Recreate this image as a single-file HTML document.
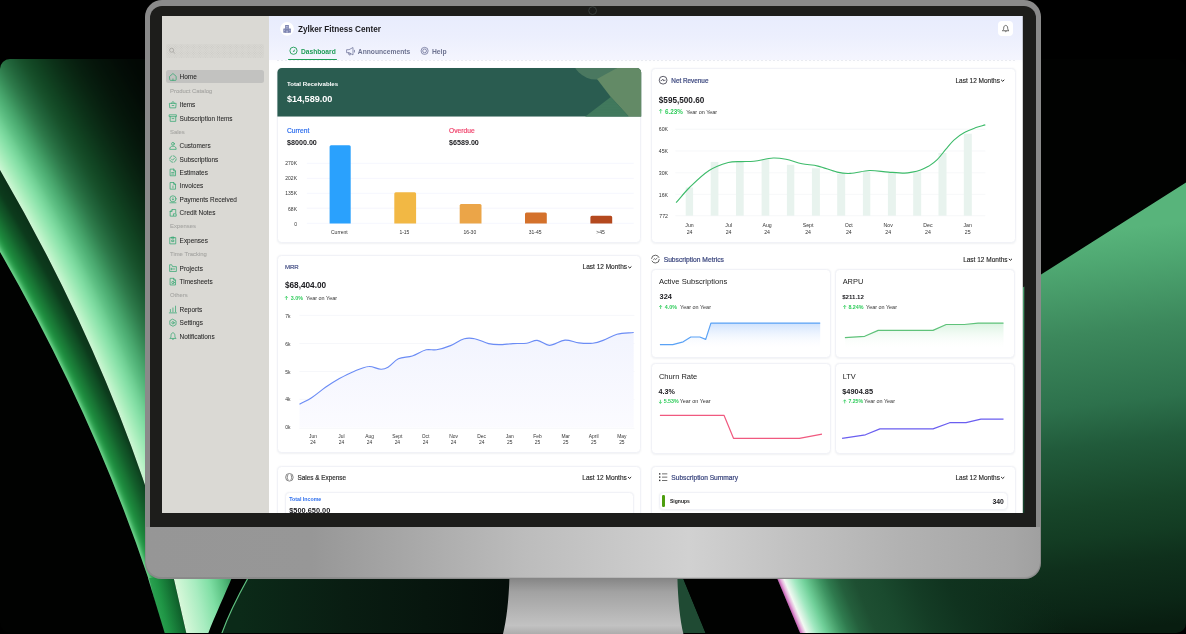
<!DOCTYPE html>
<html><head><meta charset="utf-8"><title>Dashboard</title><style>html,body{margin:0;padding:0;background:#000;}
body{width:1186px;height:634px;position:relative;overflow:hidden;font-family:"Liberation Sans", sans-serif;}
.t{position:absolute;white-space:nowrap;line-height:1;font-family:"Liberation Sans", sans-serif;}
#scr{position:absolute;left:0;top:0;width:1186px;height:634px;clip-path:inset(16px 163.2px 121px 161.5px);}
#scr2{position:absolute;left:0;top:0;width:1186px;height:634px;}
</style></head><body>
<svg width="1186" height="634" viewBox="0 0 1186 634" style="position:absolute;left:0;top:0">
<defs>
<clipPath id="bgc"><rect x="0" y="59" width="1186" height="574" rx="10"/></clipPath>
<path id="eA" d="M-311.8 -250Q207.9 325.0 219.6 900" fill="none"/>
<path id="eB" d="M-381.0 -250Q161.7 325.0 217.7 900" fill="none"/>
<clipPath id="cA"><path d="M-311.8 -250Q207.9 325.0 219.6 900 L400 900 L400 -250 Z"/></clipPath>
<clipPath id="cB"><path d="M-381.0 -250Q161.7 325.0 217.7 900 L400 900 L400 -250 Z"/></clipPath>
<clipPath id="cL"><rect x="0" y="59" width="160" height="519"/></clipPath>
<linearGradient id="gA2" gradientUnits="userSpaceOnUse" x1="173.7" y1="578" x2="228.3" y2="565.5"><stop offset="0" stop-color="#d8f8da"/><stop offset=".35" stop-color="#a8ecc0"/><stop offset=".6" stop-color="#80dfa5"/><stop offset=".82" stop-color="#58c080"/><stop offset="1" stop-color="#3a9a60"/></linearGradient>
<linearGradient id="gB2" gradientUnits="userSpaceOnUse" x1="148" y1="578" x2="173" y2="572"><stop offset="0" stop-color="#80d8a0"/><stop offset=".06" stop-color="#2aa050"/><stop offset=".3" stop-color="#1f9545"/><stop offset="1" stop-color="#0d5a28"/></linearGradient>
<linearGradient id="gC" gradientUnits="userSpaceOnUse" x1="240" y1="0" x2="505" y2="0"><stop offset="0" stop-color="#0b2a18"/><stop offset=".4" stop-color="#091d12"/><stop offset="1" stop-color="#050f0a"/></linearGradient>
<linearGradient id="gD" gradientUnits="userSpaceOnUse" x1="1110" y1="230" x2="1158" y2="626"><stop offset="0" stop-color="#58b47b"/><stop offset=".075" stop-color="#4fa872"/><stop offset=".25" stop-color="#3c885c"/><stop offset=".43" stop-color="#2d714c"/><stop offset=".53" stop-color="#215b3b"/><stop offset=".68" stop-color="#174529"/><stop offset=".76" stop-color="#133c23"/><stop offset=".83" stop-color="#0f301c"/><stop offset=".935" stop-color="#0b2616"/><stop offset="1" stop-color="#081d10"/></linearGradient>
<linearGradient id="gE" gradientUnits="userSpaceOnUse" x1="777.5" y1="578" x2="1063.3" y2="458.0"><stop offset="0" stop-color="#c868b8"/><stop offset=".008" stop-color="#e6b0dc"/><stop offset=".018" stop-color="#f2f8f2"/><stop offset=".048" stop-color="#a0e8c0"/><stop offset=".077" stop-color="#6fcf98"/><stop offset=".107" stop-color="#4fa873"/><stop offset=".122" stop-color="#3f9563"/><stop offset=".146" stop-color="#2f7a4e"/><stop offset=".181" stop-color="#245f3c"/><stop offset=".226" stop-color="#1e4f32"/><stop offset=".297" stop-color="#1a4a2e"/><stop offset=".4" stop-color="#143c25"/><stop offset=".5" stop-color="#10331f"/><stop offset=".8" stop-color="#0d2b1a" stop-opacity="0"/></linearGradient>
<filter id="bl" color-interpolation-filters="sRGB" x="-20%" y="-20%" width="140%" height="140%"><feGaussianBlur stdDeviation="1.5"/></filter>
</defs>
<g clip-path="url(#bgc)">
<rect x="0" y="59" width="1186" height="575" fill="#010201"/>
<g clip-path="url(#cL)">
<g clip-path="url(#cB)" fill="none">
<rect x="0" y="59" width="200" height="580" fill="#082612"/>
<g filter="url(#bl)"><use href="#eB" stroke="#082612" stroke-width="160.0"/>
<use href="#eB" stroke="#082713" stroke-width="154.0"/>
<use href="#eB" stroke="#082813" stroke-width="148.0"/>
<use href="#eB" stroke="#092914" stroke-width="142.0"/>
<use href="#eB" stroke="#092914" stroke-width="136.0"/>
<use href="#eB" stroke="#092a15" stroke-width="130.0"/>
<use href="#eB" stroke="#092b15" stroke-width="124.0"/>
<use href="#eB" stroke="#092c16" stroke-width="118.0"/>
<use href="#eB" stroke="#092d16" stroke-width="112.0"/>
<use href="#eB" stroke="#0a2e17" stroke-width="106.0"/>
<use href="#eB" stroke="#0a2f17" stroke-width="100.0"/>
<use href="#eB" stroke="#0a2f18" stroke-width="94.0"/>
<use href="#eB" stroke="#0a3118" stroke-width="88.0"/>
<use href="#eB" stroke="#0b3319" stroke-width="82.0"/>
<use href="#eB" stroke="#0b351a" stroke-width="76.0"/>
<use href="#eB" stroke="#0c381b" stroke-width="70.0"/>
<use href="#eB" stroke="#0c3a1c" stroke-width="64.0"/>
<use href="#eB" stroke="#0e4420" stroke-width="58.0"/>
<use href="#eB" stroke="#0f4822" stroke-width="55.0"/>
<use href="#eB" stroke="#104d24" stroke-width="52.0"/>
<use href="#eB" stroke="#115226" stroke-width="49.0"/>
<use href="#eB" stroke="#125628" stroke-width="46.0"/>
<use href="#eB" stroke="#135b2a" stroke-width="43.0"/>
<use href="#eB" stroke="#14602c" stroke-width="40.0"/>
<use href="#eB" stroke="#15662e" stroke-width="37.0"/>
<use href="#eB" stroke="#176c31" stroke-width="34.0"/>
<use href="#eB" stroke="#187234" stroke-width="31.0"/>
<use href="#eB" stroke="#1a7836" stroke-width="28.0"/>
<use href="#eB" stroke="#1b7d38" stroke-width="25.0"/>
<use href="#eB" stroke="#1c833b" stroke-width="22.0"/>
<use href="#eB" stroke="#1e893e" stroke-width="19.0"/>
<use href="#eB" stroke="#1f8f40" stroke-width="16.0"/>
<use href="#eB" stroke="#29994a" stroke-width="13.0"/>
<use href="#eB" stroke="#32a454" stroke-width="10.0"/>
<use href="#eB" stroke="#3cae5e" stroke-width="7.0"/>
<use href="#eB" stroke="#69cf88" stroke-width="4.0"/>
<use href="#eB" stroke="#87dea2" stroke-width="1.0"/></g>
</g>
<g clip-path="url(#cA)" fill="none">
<rect x="0" y="59" width="200" height="580" fill="#010402"/>
<g filter="url(#bl)"><use href="#eA" stroke="#010402" stroke-width="440.0"/>
<use href="#eA" stroke="#010402" stroke-width="434.0"/>
<use href="#eA" stroke="#010502" stroke-width="428.0"/>
<use href="#eA" stroke="#010502" stroke-width="422.0"/>
<use href="#eA" stroke="#010502" stroke-width="416.0"/>
<use href="#eA" stroke="#010503" stroke-width="410.0"/>
<use href="#eA" stroke="#010503" stroke-width="404.0"/>
<use href="#eA" stroke="#010603" stroke-width="398.0"/>
<use href="#eA" stroke="#010603" stroke-width="392.0"/>
<use href="#eA" stroke="#020603" stroke-width="386.0"/>
<use href="#eA" stroke="#020603" stroke-width="380.0"/>
<use href="#eA" stroke="#020703" stroke-width="374.0"/>
<use href="#eA" stroke="#020703" stroke-width="368.0"/>
<use href="#eA" stroke="#020704" stroke-width="362.0"/>
<use href="#eA" stroke="#020804" stroke-width="356.0"/>
<use href="#eA" stroke="#020804" stroke-width="350.0"/>
<use href="#eA" stroke="#020904" stroke-width="344.0"/>
<use href="#eA" stroke="#020905" stroke-width="338.0"/>
<use href="#eA" stroke="#030a05" stroke-width="332.0"/>
<use href="#eA" stroke="#030b06" stroke-width="326.0"/>
<use href="#eA" stroke="#030c06" stroke-width="320.0"/>
<use href="#eA" stroke="#030d07" stroke-width="314.0"/>
<use href="#eA" stroke="#040e07" stroke-width="308.0"/>
<use href="#eA" stroke="#041008" stroke-width="302.0"/>
<use href="#eA" stroke="#041108" stroke-width="296.0"/>
<use href="#eA" stroke="#041209" stroke-width="290.0"/>
<use href="#eA" stroke="#05130a" stroke-width="284.0"/>
<use href="#eA" stroke="#05150a" stroke-width="278.0"/>
<use href="#eA" stroke="#06160b" stroke-width="272.0"/>
<use href="#eA" stroke="#06180c" stroke-width="266.0"/>
<use href="#eA" stroke="#061a0d" stroke-width="260.0"/>
<use href="#eA" stroke="#071c0e" stroke-width="254.0"/>
<use href="#eA" stroke="#071e0f" stroke-width="248.0"/>
<use href="#eA" stroke="#082010" stroke-width="242.0"/>
<use href="#eA" stroke="#092311" stroke-width="236.0"/>
<use href="#eA" stroke="#092512" stroke-width="230.0"/>
<use href="#eA" stroke="#0a2814" stroke-width="224.0"/>
<use href="#eA" stroke="#0b2b15" stroke-width="218.0"/>
<use href="#eA" stroke="#0b2e17" stroke-width="212.0"/>
<use href="#eA" stroke="#0c3118" stroke-width="206.0"/>
<use href="#eA" stroke="#0d341a" stroke-width="200.0"/>
<use href="#eA" stroke="#0e381c" stroke-width="194.0"/>
<use href="#eA" stroke="#0f3b1e" stroke-width="188.0"/>
<use href="#eA" stroke="#103f1f" stroke-width="182.0"/>
<use href="#eA" stroke="#114322" stroke-width="176.0"/>
<use href="#eA" stroke="#124624" stroke-width="170.0"/>
<use href="#eA" stroke="#144a26" stroke-width="164.0"/>
<use href="#eA" stroke="#164e29" stroke-width="158.0"/>
<use href="#eA" stroke="#18522c" stroke-width="152.0"/>
<use href="#eA" stroke="#1b5730" stroke-width="146.0"/>
<use href="#eA" stroke="#1d5d35" stroke-width="140.0"/>
<use href="#eA" stroke="#206239" stroke-width="134.0"/>
<use href="#eA" stroke="#24683d" stroke-width="128.0"/>
<use href="#eA" stroke="#276f42" stroke-width="122.0"/>
<use href="#eA" stroke="#2b7647" stroke-width="116.0"/>
<use href="#eA" stroke="#307d4d" stroke-width="110.0"/>
<use href="#eA" stroke="#348654" stroke-width="104.0"/>
<use href="#eA" stroke="#398f5a" stroke-width="98.0"/>
<use href="#eA" stroke="#3f9861" stroke-width="92.0"/>
<use href="#eA" stroke="#45a169" stroke-width="86.0"/>
<use href="#eA" stroke="#4baa70" stroke-width="80.0"/>
<use href="#eA" stroke="#51b277" stroke-width="74.0"/>
<use href="#eA" stroke="#59ba7f" stroke-width="68.0"/>
<use href="#eA" stroke="#61c286" stroke-width="62.0"/>
<use href="#eA" stroke="#69ca8e" stroke-width="56.0"/>
<use href="#eA" stroke="#6ecd92" stroke-width="53.0"/>
<use href="#eA" stroke="#72d196" stroke-width="50.0"/>
<use href="#eA" stroke="#77d59a" stroke-width="47.0"/>
<use href="#eA" stroke="#7bd89e" stroke-width="44.0"/>
<use href="#eA" stroke="#80dca2" stroke-width="41.0"/>
<use href="#eA" stroke="#85dfa6" stroke-width="38.0"/>
<use href="#eA" stroke="#8ae1a9" stroke-width="35.0"/>
<use href="#eA" stroke="#8fe4ad" stroke-width="32.0"/>
<use href="#eA" stroke="#95e6b0" stroke-width="29.0"/>
<use href="#eA" stroke="#9ae8b4" stroke-width="26.0"/>
<use href="#eA" stroke="#a0eab7" stroke-width="23.0"/>
<use href="#eA" stroke="#a6ecba" stroke-width="20.0"/>
<use href="#eA" stroke="#aceebe" stroke-width="17.0"/>
<use href="#eA" stroke="#b2f0c2" stroke-width="14.0"/>
<use href="#eA" stroke="#b8f2c6" stroke-width="11.0"/>
<use href="#eA" stroke="#bff3ca" stroke-width="8.0"/>
<use href="#eA" stroke="#c7f4cf" stroke-width="5.0"/>
<use href="#eA" stroke="#cff6d5" stroke-width="2.0"/></g>
</g>
</g>
<path d="M1030 281.6 L1186 182.4 L1186 640 L760 640 L760 570 L1030 570 Z" fill="url(#gD)"/>
<path d="M148 578 L173.7 578 L186.5 634 L165 634 Z" fill="url(#gB2)"/>
<path d="M173.7 578 L231.7 578 C226 592 214 618 208 634 L186.5 634 Z" fill="url(#gA2)"/>
<path d="M248 578 C238 596 228 616 221.6 634 L520 634 L520 578 Z" fill="url(#gC)"/>
<path d="M248 578 C238 596 228 616 221.6 634" fill="none" stroke="#5fc080" stroke-width="1.2"/>
<path d="M670 578 L683 578 L706 634 L670 634 Z" fill="#1f4a33"/>
<path d="M683 578 L777 578 L800.5 634 L706 634 Z" fill="#010201"/>
<path d="M777 578 L1186 578 L1186 634 L800.5 634 Z" fill="url(#gE)"/>
</g>
</svg>
<div style="position:absolute;left:145px;top:0;width:896px;height:578px;border-radius:17px 17px 16px 16px;height:578.5px;background:#8a8a8a;"></div>
<div style="position:absolute;left:145.8px;top:527px;width:894.4px;height:50.8px;border-radius:0 0 15.2px 15.2px;background:linear-gradient(90deg,#969696 0,#979797 18.6%,#a8a8a8 29.6%,#bcbcbc 42.2%,#d1d1d1 60.7%,#c2c2c2 71.7%,#b2b2b2 84.3%,#a6a6a6 96.9%,#a0a0a0 100%);box-shadow:inset 0 -1px 0 rgba(0,0,0,.08);"></div>
<div style="position:absolute;left:149.7px;top:5.6px;width:886.6px;height:521.4px;border-radius:12px 12px 0 0;background:#1d1d1b;"></div>
<svg width="1186" height="634" style="position:absolute;left:0;top:0"><circle cx="592.6" cy="10.6" r="3.9" fill="#1b1c1b" stroke="#373c3a" stroke-width="1"/>
<defs><linearGradient id="gstrip" gradientUnits="userSpaceOnUse" x1="0" y1="284" x2="0" y2="513"><stop offset="0" stop-color="#4aa06d"/><stop offset=".2" stop-color="#3e8c60"/><stop offset=".5" stop-color="#2f7550"/><stop offset=".68" stop-color="#215b3b"/><stop offset="1" stop-color="#15402a"/></linearGradient><linearGradient id="gst" x1="0" y1="0" x2="0" y2="1"><stop offset="0" stop-color="#858585"/><stop offset=".25" stop-color="#a2a2a2"/><stop offset=".85" stop-color="#c2c2c2"/><stop offset="1" stop-color="#adadad"/></linearGradient></defs>
<path d="M1022.8 287.500L1024.300 286.500V513H1022.800Z" fill="url(#gstrip)"/><path d="M509.4 578H677.4C678 600 680 620 683.4 634H503C506.5 620 508.8 600 509.4 578Z" fill="url(#gst)"/>
</svg>
<div id="scr"><div id="scr2">
<div style="position:absolute;left:161.50px;top:16.00px;width:107.30px;height:497.00px;background:#dad9d4;"></div>
<div style="position:absolute;left:268.80px;top:16.00px;width:754.00px;height:497.00px;background:linear-gradient(180deg,#e8ecfd 0,#eceffd 20px,#f4f5fe 43.5px,#fdfdff 44.5px,#fff 48px);"></div>
<div style="position:absolute;left:166.20px;top:43.80px;width:98.30px;height:14.10px;background-color:#d8d7d2;background-image:radial-gradient(#cbcac5 0.55px,transparent 0.7px),radial-gradient(#cbcac5 0.55px,transparent 0.7px);background-size:2.4px 2.4px;background-position:0 0,1.2px 1.2px;border-radius:2px;"></div>
<div style="position:absolute;left:166.00px;top:70.00px;width:98.00px;height:13.00px;background:#c2c2c0;border-radius:2.5px;"></div>
<div style="position:absolute;left:998.00px;top:21.10px;width:15.00px;height:15.40px;background:#fff;border-radius:4px;"></div>
<div style="position:absolute;left:288.00px;top:59.20px;width:48.60px;height:1.30px;background:#1f9d57;border-radius:1px;"></div>
<div style="position:absolute;left:277.00px;top:60.30px;width:739.00px;height:0.50px;background:repeating-linear-gradient(90deg,#e9ebf0 0 2px,transparent 2px 4px);"></div>
<div style="position:absolute;left:277.40px;top:68.00px;width:363.80px;height:175.30px;background:#fff;border:0.7px solid #f1f2f7;border-radius:4.5px;box-shadow:0 0.5px 2px rgba(20,30,60,.06);box-sizing:border-box;"></div>
<div style="position:absolute;left:651.40px;top:68.00px;width:364.30px;height:175.30px;background:#fff;border:0.7px solid #f1f2f7;border-radius:4.5px;box-shadow:0 0.5px 2px rgba(20,30,60,.06);box-sizing:border-box;"></div>
<div style="position:absolute;left:277.40px;top:254.70px;width:364.10px;height:198.70px;background:#fff;border:0.7px solid #f1f2f7;border-radius:4.5px;box-shadow:0 0.5px 2px rgba(20,30,60,.06);box-sizing:border-box;"></div>
<div style="position:absolute;left:651.20px;top:268.60px;width:180.20px;height:89.90px;background:#fff;border:0.7px solid #f1f2f7;border-radius:4.5px;box-shadow:0 0.5px 2px rgba(20,30,60,.06);box-sizing:border-box;"></div>
<div style="position:absolute;left:835.20px;top:268.60px;width:180.10px;height:89.90px;background:#fff;border:0.7px solid #f1f2f7;border-radius:4.5px;box-shadow:0 0.5px 2px rgba(20,30,60,.06);box-sizing:border-box;"></div>
<div style="position:absolute;left:651.20px;top:363.30px;width:180.20px;height:90.30px;background:#fff;border:0.7px solid #f1f2f7;border-radius:4.5px;box-shadow:0 0.5px 2px rgba(20,30,60,.06);box-sizing:border-box;"></div>
<div style="position:absolute;left:835.20px;top:363.30px;width:180.10px;height:90.30px;background:#fff;border:0.7px solid #f1f2f7;border-radius:4.5px;box-shadow:0 0.5px 2px rgba(20,30,60,.06);box-sizing:border-box;"></div>
<div style="position:absolute;left:277.40px;top:465.60px;width:364.10px;height:64.40px;background:#fff;border:0.7px solid #f1f2f7;border-radius:4.5px;box-shadow:0 0.5px 2px rgba(20,30,60,.06);box-sizing:border-box;"></div>
<div style="position:absolute;left:285.40px;top:491.80px;width:348.30px;height:38.20px;background:#fff;border:0.7px solid #f1f2f7;border-radius:4.5px;box-shadow:0 0.5px 2px rgba(20,30,60,.06);box-sizing:border-box;"></div>
<div style="position:absolute;left:651.40px;top:465.60px;width:364.30px;height:64.40px;background:#fff;border:0.7px solid #f1f2f7;border-radius:4.5px;box-shadow:0 0.5px 2px rgba(20,30,60,.06);box-sizing:border-box;"></div>
<div style="position:absolute;left:658.50px;top:491.80px;width:349.50px;height:18.40px;background:#fff;border:0.7px solid #f1f2f7;border-radius:4.5px;box-shadow:0 0.5px 2px rgba(20,30,60,.06);box-sizing:border-box;"></div>
<div style="position:absolute;left:662.30px;top:494.90px;width:3.20px;height:11.80px;background:#4d9e0f;border-radius:1.2px;"></div>
<svg width="1186" height="634" viewBox="0 0 1186 634" style="position:absolute;left:0;top:0">
<circle cx="171.6" cy="50.2" r="2" fill="none" stroke="#a3a29e" stroke-width=".75"/><path d="M173.1 51.700l1.700 1.600" stroke="#a3a29e" stroke-width=".8"/>
<g transform="translate(169.1 73.20) scale(1.07)" fill="none" stroke="#2fa56e" stroke-width=".68" stroke-linejoin="round" stroke-linecap="round"><path d="M.6 2.900L3.600.3l3 2.600v3.200a.6.6 0 0 1-.6.6H1.200a.6.6 0 0 1-.6-.6z"/><path d="M3.600 6.600V5.300"/></g>
<g transform="translate(169.1 100.90) scale(1.07)" fill="none" stroke="#2fa56e" stroke-width=".68" stroke-linejoin="round" stroke-linecap="round"><path d="M.6 2.3h6l-.4 4.2H1z"/><path d="M2.3 2.3C2.3.2 4.9.2 4.9 2.3"/><path d="M2.8 4.3h1.6"/></g>
<g transform="translate(169.1 114.30) scale(1.07)" fill="none" stroke="#2fa56e" stroke-width=".68" stroke-linejoin="round" stroke-linecap="round"><path d="M.4.5h6.4v1.7H.4z"/><path d="M1 2.2v4.4h5.2V2.2"/><path d="M2.8 4h1.6"/></g>
<g transform="translate(169.1 142.00) scale(1.07)" fill="none" stroke="#2fa56e" stroke-width=".68" stroke-linejoin="round" stroke-linecap="round"><circle cx="3.6" cy="1.7" r="1.3"/><path d="M.6 6.5c0-1.6 1-2.6 3-2.6s3 1 3 2.6z"/></g>
<g transform="translate(169.1 155.30) scale(1.07)" fill="none" stroke="#2fa56e" stroke-width=".68" stroke-linejoin="round" stroke-linecap="round"><circle cx="3.6" cy="3.5" r="3.1" stroke-dasharray="3.4 1.4"/><path d="M2.3 3.6l1 1 1.7-1.9"/></g>
<g transform="translate(169.1 168.70) scale(1.07)" fill="none" stroke="#2fa56e" stroke-width=".68" stroke-linejoin="round" stroke-linecap="round"><path d="M1.300.4h3l1.700 1.700v4.500H1.300z"/><path d="M4.300.4v1.700h1.700"/><path d="M2.400 3.600h2.200M2.400 5h2.200"/></g>
<g transform="translate(169.1 182.10) scale(1.07)" fill="none" stroke="#2fa56e" stroke-width=".68" stroke-linejoin="round" stroke-linecap="round"><path d="M1.300.4h3l1.700 1.700v4.500H1.300z"/><path d="M4.300.4v1.700h1.700"/><path d="M3.600 3.600v1.800"/></g>
<g transform="translate(169.1 195.50) scale(1.07)" fill="none" stroke="#2fa56e" stroke-width=".68" stroke-linejoin="round" stroke-linecap="round"><circle cx="3.600" cy="3.100" r="2.850"/><path d="M3.600 1.900v2.200M2.800 3.400l.8.800.8-.8" stroke-width=".55"/><path d="M.8 6.800h5.600"/></g>
<g transform="translate(169.1 209.10) scale(1.07)" fill="none" stroke="#2fa56e" stroke-width=".68" stroke-linejoin="round" stroke-linecap="round"><path d="M3.6 6.6H1V2.2L2.8.4h3.4v3"/><path d="M2.8.4v1.8H1"/><path d="M4.4 4.4h2.2v2.2H4.4z"/></g>
<g transform="translate(169.1 236.80) scale(1.07)" fill="none" stroke="#2fa56e" stroke-width=".68" stroke-linejoin="round" stroke-linecap="round"><path d="M1 .8h5.2v5.8H1z"/><path d="M2.6.3h2v1h-2z"/><path d="M2.8 3h1.6v1.5H2.8z"/></g>
<g transform="translate(169.1 264.50) scale(1.07)" fill="none" stroke="#2fa56e" stroke-width=".68" stroke-linejoin="round" stroke-linecap="round"><path d="M.5.6v5.9h6.3V2H3.2L2.6.6z"/><path d="M2 4.2h3.2M2 3.4v1.6"/></g>
<g transform="translate(169.1 277.90) scale(1.07)" fill="none" stroke="#2fa56e" stroke-width=".68" stroke-linejoin="round" stroke-linecap="round"><path d="M1.300.4h3l1.700 1.700v4.500H1.300z"/><path d="M4.300.4v1.700h1.700"/><circle cx="3.600" cy="4.300" r="1.150"/></g>
<g transform="translate(169.1 305.60) scale(1.07)" fill="none" stroke="#2fa56e" stroke-width=".68" stroke-linejoin="round" stroke-linecap="round"><path d="M1.2 5.8V3.6M3.6 5.8V2.2M6 5.8V.5"/><path d="M.2 6.8h6.8"/></g>
<g transform="translate(169.1 319.00) scale(1.07)" fill="none" stroke="#2fa56e" stroke-width=".68" stroke-linejoin="round" stroke-linecap="round"><path d="M3.6.3l2.9 1.6v3.3L3.6 6.8.7 5.2V1.9z"/><circle cx="3.6" cy="3.55" r="1.1"/></g>
<g transform="translate(169.1 332.30) scale(1.07)" fill="none" stroke="#2fa56e" stroke-width=".68" stroke-linejoin="round" stroke-linecap="round"><path d="M1 5.5c.7-.6.8-1.3.8-2.6C1.8 1.400 2.600.500 3.600.5s1.800.9 1.800 2.400c0 1.300.1 2 .8 2.600z"/><path d="M3 6.500c.3.400.9.400 1.200 0"/></g>
<circle cx="287" cy="28.8" r="6.9" fill="#fff"/>
<g fill="#7d84b0"><rect x="285.1" y="25" width="3.8" height="7.7" rx=".3"/><rect x="283.3" y="28.6" width="7.6" height="4.1" rx=".3"/></g><g fill="#c9cde6"><rect x="285.9" y="26" width=".9" height=".9"/><rect x="287.3" y="26" width=".9" height=".9"/><rect x="285.9" y="27.6" width=".9" height=".9"/><rect x="287.3" y="27.6" width=".9" height=".9"/><rect x="284" y="29.8" width=".8" height=".9"/><rect x="289.4" y="29.8" width=".8" height=".9"/><rect x="286.5" y="30.6" width="1.1" height="2.1"/></g>
<circle cx="293.5" cy="50.75" r="3.6" fill="none" stroke="#1f9d57" stroke-width=".9"/><path d="M292.7 51.5L295.3 49.1L294.1 52.1z" fill="#1f9d57"/>
<g fill="none" stroke="#6f7499" stroke-width=".75" stroke-linejoin="round" stroke-linecap="round"><path d="M347 49.700h2l4-2.200v7.400l-4-2.200h-2z"/><path d="M348.500 52.900l.5 2h1.400l-.4-1.800"/><path d="M354.500 50.300v1.800"/></g>
<g fill="none" stroke="#6f7499" stroke-width=".8"><circle cx="424.600" cy="50.900" r="3.550"/><circle cx="424.600" cy="50.900" r="1.900"/></g>
<g fill="none" stroke="#444" stroke-width=".75" stroke-linejoin="round" stroke-linecap="round"><path d="M1002.700 30.500c.8-.6 1-1.300 1-2.500 0-1.600.9-2.600 2-2.600s2 1 2 2.600c0 1.200.2 1.900 1 2.500z"/><path d="M1005 31.400c.3.400 1.100.400 1.400 0"/></g>
<g><clipPath id="trc"><path d="M277.4 72.5a4.5 4.5 0 0 1 4.5-4.5h354.8a4.5 4.5 0 0 1 4.5 4.5v44.2h-363.8z"/></clipPath>
<g clip-path="url(#trc)"><rect x="277" y="68" width="365" height="48.7" fill="#2a5c50"/>
<circle cx="596" cy="55" r="24.5" fill="#4a7860"/>
<path d="M617 68L642 68L642 116.7L629 116.7L610.8 97L597 79Z" fill="#638a66"/>
<pattern id="dp" width="1.6" height="1.6" patternUnits="userSpaceOnUse"><rect width="1.6" height="1.6" fill="#3b7257"/><circle cx=".8" cy=".8" r=".38" fill="#5fa07a"/></pattern><path d="M610.8 97L629 116.7L585 116.7Z" fill="url(#dp)"/></g></g>
<path d="M306.8 163.3H633.7" stroke="#eef0fb" stroke-width=".6"/>
<path d="M306.8 178.4H633.7" stroke="#eef0fb" stroke-width=".6"/>
<path d="M306.8 193.3H633.7" stroke="#eef0fb" stroke-width=".6"/>
<path d="M306.8 208.2H633.7" stroke="#eef0fb" stroke-width=".6"/>
<path d="M306.8 223.3H633.7" stroke="#eef0fb" stroke-width=".6"/>
<path d="M329.6 223.4V146.7a1.5 1.5 0 0 1 1.5-1.5H349.2a1.5 1.5 0 0 1 1.5 1.5V223.4z" fill="#2aa1fd"/>
<path d="M394.3 223.4V193.8a1.5 1.5 0 0 1 1.5-1.5H414.6a1.5 1.5 0 0 1 1.5 1.5V223.4z" fill="#f2b844"/>
<path d="M459.7 223.4V205.4a1.5 1.5 0 0 1 1.5-1.5H480.0a1.5 1.5 0 0 1 1.5 1.5V223.4z" fill="#eba548"/>
<path d="M525 223.4V214.0a1.5 1.5 0 0 1 1.5-1.5H545.3a1.5 1.5 0 0 1 1.5 1.5V223.4z" fill="#d4712b"/>
<path d="M590.4 223.4V217.2a1.5 1.5 0 0 1 1.5-1.5H610.7a1.5 1.5 0 0 1 1.5 1.5V223.4z" fill="#b4491e"/>
<circle cx="663.1" cy="80.2" r="3.9" fill="none" stroke="#2a2a3a" stroke-width=".75"/><path d="M660.700 80.500l1.300-.1.900-1.300.9 2 .8-.9h1" fill="none" stroke="#2a2a3a" stroke-width=".65"/>
<path d="M1001.10 79.80l1.6 1.5 1.6-1.5" fill="none" stroke="#222" stroke-width="1"/>
<path d="M660.70 113.54v-4.27m-1.4 1.5l1.4-1.5 1.4 1.5" fill="none" stroke="#2ecc5a" stroke-width=".75"/>
<path d="M675.4 129.2H985.3" stroke="#f0f1f5" stroke-width=".6"/>
<path d="M675.4 151.0H985.3" stroke="#f0f1f5" stroke-width=".6"/>
<path d="M675.4 172.8H985.3" stroke="#f0f1f5" stroke-width=".6"/>
<path d="M675.4 194.3H985.3" stroke="#f0f1f5" stroke-width=".6"/>
<path d="M675.4 215.7H985.3" stroke="#f0f1f5" stroke-width=".6"/>
<rect x="685.7" y="187.5" width="7.4" height="28.2" fill="#e8f3ee"/>
<rect x="710.7" y="161.9" width="7.7" height="53.8" fill="#e8f3ee"/>
<rect x="736.0" y="161.9" width="7.7" height="53.8" fill="#e8f3ee"/>
<rect x="761.6" y="159.3" width="7.7" height="56.4" fill="#e8f3ee"/>
<rect x="786.9" y="164.8" width="7.4" height="50.9" fill="#e8f3ee"/>
<rect x="811.9" y="168.3" width="8.0" height="47.4" fill="#e8f3ee"/>
<rect x="837.2" y="173.7" width="8.0" height="42.0" fill="#e8f3ee"/>
<rect x="862.9" y="171.5" width="7.4" height="44.2" fill="#e8f3ee"/>
<rect x="887.9" y="172.8" width="8.0" height="42.9" fill="#e8f3ee"/>
<rect x="913.2" y="171.5" width="8.0" height="44.2" fill="#e8f3ee"/>
<rect x="938.5" y="152.9" width="8.0" height="62.8" fill="#e8f3ee"/>
<rect x="963.8" y="133.7" width="8.0" height="82.0" fill="#e8f3ee"/>
<path d="M676.1 202.6C680.6 197.6 684.7 192.2 689.5 187.5C695.7 181.5 701.9 175.2 709.1 170.5C714.8 166.8 721.7 164.4 728.3 162.5C732.4 161.4 736.8 161.8 741.1 161.6C745.4 161.4 749.7 161.7 753.9 161.2C760.4 160.5 766.7 158.4 773.2 158.0C777.4 157.8 781.8 158.5 786.0 159.3C791.4 160.4 796.6 162.7 802.0 163.8C807.3 164.9 812.8 164.8 818.0 166.1C824.5 167.6 830.7 170.6 837.2 172.1C841.4 173.1 845.8 173.6 850.1 173.4C856.5 173.1 862.9 170.8 869.3 170.5C875.7 170.3 882.1 171.7 888.5 172.1C893.8 172.5 899.2 173.1 904.5 173.1C907.1 173.1 909.7 172.6 912.2 172.1C915.0 171.6 917.9 170.9 920.6 169.9C923.4 168.9 926.3 167.6 928.9 166.1C931.8 164.2 934.7 162.1 937.2 159.6C940.3 156.6 942.7 153.0 945.5 149.7C948.3 146.5 950.8 142.9 953.9 140.1C957.2 137.1 960.9 134.4 964.8 132.3C968.3 130.3 972.2 129.0 976.0 127.6C979.0 126.5 982.2 125.8 985.3 124.9" fill="none" stroke="#3dbb6a" stroke-width="1.1"/>
<path d="M628.20 266.50l1.6 1.5 1.6-1.5" fill="none" stroke="#222" stroke-width="1"/>
<path d="M286.40 299.92v-3.64m-1.4 1.5l1.4-1.5 1.4 1.5" fill="none" stroke="#2ecc5a" stroke-width=".75"/>
<path d="M299.5 315.4H634.4" stroke="#f0f1f7" stroke-width=".6"/>
<path d="M299.5 343.5H634.4" stroke="#f0f1f7" stroke-width=".6"/>
<path d="M299.5 371.5H634.4" stroke="#f0f1f7" stroke-width=".6"/>
<path d="M299.5 399.4H634.4" stroke="#f0f1f7" stroke-width=".6"/>
<path d="M299.5 428.3H634.4" stroke="#f0f1f7" stroke-width=".6"/>
<defs><linearGradient id="gm" x1="0" y1="0" x2="0" y2="1"><stop offset="0" stop-color="#f2f4fe"/><stop offset="1" stop-color="#fbfbff"/></linearGradient></defs>
<path d="M299.5 404.3C303.5 402.1 307.8 400.2 311.6 397.7C316.5 394.5 320.8 390.6 325.5 387.3C330.0 384.2 334.7 381.3 339.4 378.6C343.9 376.1 348.5 373.6 353.3 371.7C358.3 369.6 363.6 366.9 368.9 366.5C372.9 366.1 377.0 369.1 381.0 369.2C383.4 369.3 386.0 368.4 388.0 367.2C391.7 364.9 394.5 360.6 398.4 358.8C402.6 356.9 407.8 357.5 412.3 356.0C417.1 354.5 421.4 351.0 426.2 349.8C429.5 349.0 433.2 350.4 436.6 349.8C441.3 349.0 446.0 347.4 450.5 345.6C455.2 343.7 459.5 340.1 464.3 338.7C467.6 337.8 471.4 338.0 474.7 338.7C479.5 339.6 483.9 342.4 488.6 343.6C492.0 344.4 495.6 344.6 499.0 344.6C503.7 344.6 508.3 343.8 512.9 343.6C517.5 343.3 522.2 343.8 526.8 343.2C530.3 342.8 533.8 340.1 537.2 340.4C541.3 340.8 545.3 345.3 549.4 345.3C554.5 345.2 559.7 340.5 565.0 340.1C569.5 339.7 574.2 342.3 578.9 342.9C583.4 343.4 588.2 343.7 592.7 343.2C596.3 342.9 599.8 341.7 603.1 340.4C607.9 338.7 612.2 335.5 617.0 334.2C622.4 332.8 628.1 333.0 633.7 332.5L633.7 427.5L299.5 427.5Z" fill="url(#gm)"/>
<path d="M299.5 404.3C303.5 402.1 307.8 400.2 311.6 397.7C316.5 394.5 320.8 390.6 325.5 387.3C330.0 384.2 334.7 381.3 339.4 378.6C343.9 376.1 348.5 373.6 353.3 371.7C358.3 369.6 363.6 366.9 368.9 366.5C372.9 366.1 377.0 369.1 381.0 369.2C383.4 369.3 386.0 368.4 388.0 367.2C391.7 364.9 394.5 360.6 398.4 358.8C402.6 356.9 407.8 357.5 412.3 356.0C417.1 354.5 421.4 351.0 426.2 349.8C429.5 349.0 433.2 350.4 436.6 349.8C441.3 349.0 446.0 347.4 450.5 345.6C455.2 343.7 459.5 340.1 464.3 338.7C467.6 337.8 471.4 338.0 474.7 338.7C479.5 339.6 483.9 342.4 488.6 343.6C492.0 344.4 495.6 344.6 499.0 344.6C503.7 344.6 508.3 343.8 512.9 343.6C517.5 343.3 522.2 343.8 526.8 343.2C530.3 342.8 533.8 340.1 537.2 340.4C541.3 340.8 545.3 345.3 549.4 345.3C554.5 345.2 559.7 340.5 565.0 340.1C569.5 339.7 574.2 342.3 578.9 342.9C583.4 343.4 588.2 343.7 592.7 343.2C596.3 342.9 599.8 341.7 603.1 340.4C607.9 338.7 612.2 335.5 617.0 334.2C622.4 332.8 628.1 333.0 633.7 332.5" fill="none" stroke="#6b8cf5" stroke-width="1.15"/>
<circle cx="655.4" cy="259.1" r="3.9" fill="none" stroke="#333" stroke-width=".75" stroke-dasharray="10.300 1.950"/><path d="M653.300 259.800l1.300-1.100 1 .8 1.800-1.600" fill="none" stroke="#333" stroke-width=".7"/>
<path d="M1008.80 258.80l1.6 1.5 1.6-1.5" fill="none" stroke="#222" stroke-width="1"/>
<path d="M660.60 309.00v-3.60m-1.4 1.5l1.4-1.5 1.4 1.5" fill="none" stroke="#2ecc5a" stroke-width=".75"/>
<path d="M844.70 309.03v-3.65m-1.4 1.5l1.4-1.5 1.4 1.5" fill="none" stroke="#2ecc5a" stroke-width=".75"/>
<path d="M660.40 399.80v3.60m-1.4 -1.5l1.4 1.5 1.4-1.5" fill="none" stroke="#2ecc5a" stroke-width=".75"/>
<path d="M844.70 403.37v-3.54m-1.4 1.5l1.4-1.5 1.4 1.5" fill="none" stroke="#2ecc5a" stroke-width=".75"/>
<defs><linearGradient id="ga" x1="0" y1="0" x2="0" y2="1"><stop offset="0" stop-color="#cfe2fd"/><stop offset="1" stop-color="#fff" stop-opacity="0"/></linearGradient><linearGradient id="gb" x1="0" y1="0" x2="0" y2="1"><stop offset="0" stop-color="#d9f3e0"/><stop offset="1" stop-color="#fff" stop-opacity="0"/></linearGradient></defs>
<path d="M659.9 344.6L672.8 344.6L683.2 341.8L690.8 337.0L699.8 337.0L705.7 339.4L710.9 323.1L820.2 323.1L820.2 349.8L659.9 349.8Z" fill="url(#ga)"/><path d="M659.9 344.6L672.8 344.6L683.2 341.8L690.8 337.0L699.8 337.0L705.7 339.4L710.9 323.1L820.2 323.1" fill="none" stroke="#5aa2f5" stroke-width="1.2" stroke-linejoin="round"/>
<path d="M844.9 337.7L864.7 336.3L878.2 330.4L933.0 330.4L946.2 324.5L964.3 324.5L978.1 323.1L1003.5 323.1L1003.5 349.8L844.9 349.8Z" fill="url(#gb)"/><path d="M844.9 337.7L864.7 336.3L878.2 330.4L933.0 330.4L946.2 324.5L964.3 324.5L978.1 323.1L1003.5 323.1" fill="none" stroke="#5fc27a" stroke-width="1.2" stroke-linejoin="round"/>
<path d="M659.9 415.4L724.1 415.4L733.5 438.3L799.4 438.3L822.0 434.1" fill="none" stroke="#f0597f" stroke-width="1.2" stroke-linejoin="round"/>
<path d="M842.1 438.3L865.4 434.8L879.9 428.9L933.0 428.9L949.7 422.7L966.0 422.7L980.9 419.2L1003.5 419.2" fill="none" stroke="#6a5ef0" stroke-width="1.2" stroke-linejoin="round"/>
<g fill="none" stroke="#555" stroke-width=".7"><circle cx="289.4" cy="477.3" r="3.8"/><path d="M288.200 474.600c-1.300 1.500-1.300 3.900 0 5.400M290.900 474.800c1 1.400 1 3.600 0 5"/></g>
<path d="M628.00 477.00l1.6 1.5 1.6-1.5" fill="none" stroke="#222" stroke-width="1"/>
<g fill="#333"><rect x="659" y="473.200" width="1.400" height="1.400"/><rect x="659" y="476.400" width="1.400" height="1.400"/><rect x="659" y="479.700" width="1.400" height="1.400"/><rect x="662" y="473.550" width="5.300" height=".7"/><rect x="662" y="476.750" width="5.300" height=".7"/><rect x="662" y="480.050" width="5.300" height=".7"/></g>
<path d="M1001.10 477.00l1.6 1.5 1.6-1.5" fill="none" stroke="#222" stroke-width="1"/>
</svg>
<div style="position:absolute;left:0;top:0;width:1186px;height:634px;will-change:transform;">
<div class="t" style="left:179.60px;top:74.45px;font-size:6.45px;color:#262626;-webkit-text-stroke:0.05px #262626;">Home</div>
<div class="t" style="left:170.00px;top:88.60px;font-size:5.9px;color:#a6a6a3;-webkit-text-stroke:0.1px #a6a6a3;">Product Catalog</div>
<div class="t" style="left:179.60px;top:102.15px;font-size:6.45px;color:#262626;-webkit-text-stroke:0.05px #262626;">Items</div>
<div class="t" style="left:179.60px;top:115.55px;font-size:6.45px;color:#262626;-webkit-text-stroke:0.05px #262626;">Subscription Items</div>
<div class="t" style="left:170.00px;top:129.66px;font-size:5.9px;color:#a6a6a3;-webkit-text-stroke:0.1px #a6a6a3;">Sales</div>
<div class="t" style="left:179.60px;top:143.25px;font-size:6.45px;color:#262626;-webkit-text-stroke:0.05px #262626;">Customers</div>
<div class="t" style="left:179.60px;top:156.55px;font-size:6.45px;color:#262626;-webkit-text-stroke:0.05px #262626;">Subscriptions</div>
<div class="t" style="left:179.60px;top:169.95px;font-size:6.45px;color:#262626;-webkit-text-stroke:0.05px #262626;">Estimates</div>
<div class="t" style="left:179.60px;top:183.35px;font-size:6.45px;color:#262626;-webkit-text-stroke:0.05px #262626;">Invoices</div>
<div class="t" style="left:179.60px;top:196.75px;font-size:6.45px;color:#262626;-webkit-text-stroke:0.05px #262626;">Payments Received</div>
<div class="t" style="left:179.60px;top:210.35px;font-size:6.45px;color:#262626;-webkit-text-stroke:0.05px #262626;">Credit Notes</div>
<div class="t" style="left:170.00px;top:224.45px;font-size:5.9px;color:#a6a6a3;-webkit-text-stroke:0.1px #a6a6a3;">Expenses</div>
<div class="t" style="left:179.60px;top:238.05px;font-size:6.45px;color:#262626;-webkit-text-stroke:0.05px #262626;">Expenses</div>
<div class="t" style="left:170.00px;top:252.25px;font-size:5.9px;color:#a6a6a3;-webkit-text-stroke:0.1px #a6a6a3;">Time Tracking</div>
<div class="t" style="left:179.60px;top:265.75px;font-size:6.45px;color:#262626;-webkit-text-stroke:0.05px #262626;">Projects</div>
<div class="t" style="left:179.60px;top:279.15px;font-size:6.45px;color:#262626;-webkit-text-stroke:0.05px #262626;">Timesheets</div>
<div class="t" style="left:170.00px;top:293.36px;font-size:5.9px;color:#a6a6a3;-webkit-text-stroke:0.1px #a6a6a3;">Others</div>
<div class="t" style="left:179.60px;top:306.85px;font-size:6.45px;color:#262626;-webkit-text-stroke:0.05px #262626;">Reports</div>
<div class="t" style="left:179.60px;top:320.25px;font-size:6.45px;color:#262626;-webkit-text-stroke:0.05px #262626;">Settings</div>
<div class="t" style="left:179.60px;top:333.55px;font-size:6.45px;color:#262626;-webkit-text-stroke:0.05px #262626;">Notifications</div>
<div class="t" style="left:298.00px;top:25.89px;font-size:8.16px;color:#1b1b1f;font-weight:700;">Zylker Fitness Center</div>
<div class="t" style="left:300.90px;top:48.69px;font-size:6.68px;color:#1f9d57;font-weight:700;">Dashboard</div>
<div class="t" style="left:357.80px;top:48.69px;font-size:6.69px;color:#6e7391;font-weight:700;">Announcements</div>
<div class="t" style="left:432.00px;top:48.66px;font-size:6.74px;color:#6e7391;font-weight:700;">Help</div>
<div class="t" style="left:286.90px;top:80.98px;font-size:6.14px;color:#fff;font-weight:700;">Total Receivables</div>
<div class="t" style="left:286.90px;top:95.47px;font-size:9.1px;color:#fff;font-weight:700;">$14,589.00</div>
<div class="t" style="left:287.00px;top:128.48px;font-size:6.7px;color:#2f6fed;-webkit-text-stroke:0.2px #2f6fed;">Current</div>
<div class="t" style="left:287.00px;top:139.53px;font-size:7.17px;color:#1b1b1f;font-weight:700;">$8000.00</div>
<div class="t" style="left:449.00px;top:128.48px;font-size:6.7px;color:#f0466e;-webkit-text-stroke:0.2px #f0466e;">Overdue</div>
<div class="t" style="left:449.00px;top:139.53px;font-size:7.17px;color:#1b1b1f;font-weight:700;">$6589.00</div>
<div class="t" style="left:267.00px;top:161.26px;font-size:5.0px;color:#333;width:30px;text-align:right;">270K</div>
<div class="t" style="left:267.00px;top:176.36px;font-size:5.0px;color:#333;width:30px;text-align:right;">202K</div>
<div class="t" style="left:267.00px;top:191.46px;font-size:5.0px;color:#333;width:30px;text-align:right;">135K</div>
<div class="t" style="left:267.00px;top:206.56px;font-size:5.0px;color:#333;width:30px;text-align:right;">68K</div>
<div class="t" style="left:267.00px;top:222.06px;font-size:5.0px;color:#333;width:30px;text-align:right;">0</div>
<div class="t" style="left:319.35px;top:229.70px;font-size:5.0px;color:#333;width:40px;text-align:center;">Current</div>
<div class="t" style="left:384.40px;top:229.70px;font-size:5.0px;color:#333;width:40px;text-align:center;">1-15</div>
<div class="t" style="left:449.80px;top:229.70px;font-size:5.0px;color:#333;width:40px;text-align:center;">16-30</div>
<div class="t" style="left:515.10px;top:229.70px;font-size:5.0px;color:#333;width:40px;text-align:center;">31-45</div>
<div class="t" style="left:580.50px;top:229.70px;font-size:5.0px;color:#333;width:40px;text-align:center;">&gt;45</div>
<div class="t" style="left:671.30px;top:77.87px;font-size:6.36px;color:#3f4a80;-webkit-text-stroke:0.22px #3f4a80;">Net Revenue</div>
<div class="t" style="left:919.90px;top:77.79px;font-size:6.5px;color:#222;-webkit-text-stroke:0.12px #222;width:80px;text-align:right;">Last 12 Months</div>
<div class="t" style="left:658.80px;top:96.85px;font-size:8.18px;color:#1b1b1f;font-weight:700;">$595,500.60</div>
<div class="t" style="left:665.00px;top:109.23px;font-size:6.28px;color:#2ecc5a;font-weight:700;">6.23%</div>
<div class="t" style="left:686.20px;top:109.61px;font-size:5.45px;color:#333;">Year on Year</div>
<div class="t" style="left:638.00px;top:126.96px;font-size:5.2px;color:#333;width:30px;text-align:right;">60K</div>
<div class="t" style="left:638.00px;top:148.76px;font-size:5.2px;color:#333;width:30px;text-align:right;">45K</div>
<div class="t" style="left:638.00px;top:170.66px;font-size:5.2px;color:#333;width:30px;text-align:right;">30K</div>
<div class="t" style="left:638.00px;top:192.56px;font-size:5.2px;color:#333;width:30px;text-align:right;">16K</div>
<div class="t" style="left:638.00px;top:214.46px;font-size:5.2px;color:#333;width:30px;text-align:right;">772</div>
<div class="t" style="left:674.54px;top:223.20px;font-size:5.2px;color:#333;width:30px;text-align:center;">Jun</div>
<div class="t" style="left:674.54px;top:230.30px;font-size:5.2px;color:#333;width:30px;text-align:center;">24</div>
<div class="t" style="left:713.63px;top:223.20px;font-size:5.2px;color:#333;width:30px;text-align:center;">Jul</div>
<div class="t" style="left:713.63px;top:230.30px;font-size:5.2px;color:#333;width:30px;text-align:center;">24</div>
<div class="t" style="left:752.08px;top:223.20px;font-size:5.2px;color:#333;width:30px;text-align:center;">Aug</div>
<div class="t" style="left:752.08px;top:230.30px;font-size:5.2px;color:#333;width:30px;text-align:center;">24</div>
<div class="t" style="left:793.09px;top:223.20px;font-size:5.2px;color:#333;width:30px;text-align:center;">Sept</div>
<div class="t" style="left:793.09px;top:230.30px;font-size:5.2px;color:#333;width:30px;text-align:center;">24</div>
<div class="t" style="left:833.78px;top:223.20px;font-size:5.2px;color:#333;width:30px;text-align:center;">Oct</div>
<div class="t" style="left:833.78px;top:230.30px;font-size:5.2px;color:#333;width:30px;text-align:center;">24</div>
<div class="t" style="left:873.19px;top:223.20px;font-size:5.2px;color:#333;width:30px;text-align:center;">Nov</div>
<div class="t" style="left:873.19px;top:230.30px;font-size:5.2px;color:#333;width:30px;text-align:center;">24</div>
<div class="t" style="left:912.92px;top:223.20px;font-size:5.2px;color:#333;width:30px;text-align:center;">Dec</div>
<div class="t" style="left:912.92px;top:230.30px;font-size:5.2px;color:#333;width:30px;text-align:center;">24</div>
<div class="t" style="left:952.65px;top:223.20px;font-size:5.2px;color:#333;width:30px;text-align:center;">Jan</div>
<div class="t" style="left:952.65px;top:230.30px;font-size:5.2px;color:#333;width:30px;text-align:center;">25</div>
<div class="t" style="left:284.90px;top:263.83px;font-size:6.1px;color:#4a5488;-webkit-text-stroke:0.2px #4a5488;">MRR</div>
<div class="t" style="left:547.00px;top:264.49px;font-size:6.5px;color:#222;-webkit-text-stroke:0.12px #222;width:80px;text-align:right;">Last 12 Months</div>
<div class="t" style="left:284.90px;top:282.11px;font-size:8.25px;color:#1b1b1f;font-weight:700;">$68,404.00</div>
<div class="t" style="left:290.80px;top:296.42px;font-size:5.35px;color:#2ecc5a;font-weight:700;">3.0%</div>
<div class="t" style="left:306.10px;top:296.31px;font-size:5.45px;color:#333;">Year on Year</div>
<div class="t" style="left:285.20px;top:313.66px;font-size:5.0px;color:#333;">7k</div>
<div class="t" style="left:285.20px;top:341.56px;font-size:5.0px;color:#333;">6k</div>
<div class="t" style="left:285.20px;top:369.56px;font-size:5.0px;color:#333;">5k</div>
<div class="t" style="left:285.20px;top:397.46px;font-size:5.0px;color:#333;">4k</div>
<div class="t" style="left:285.20px;top:425.36px;font-size:5.0px;color:#333;">0k</div>
<div class="t" style="left:298.03px;top:435.05px;font-size:4.9px;color:#333;width:30px;text-align:center;">Jun</div>
<div class="t" style="left:298.03px;top:441.15px;font-size:4.9px;color:#333;width:30px;text-align:center;">24</div>
<div class="t" style="left:326.49px;top:435.05px;font-size:4.9px;color:#333;width:30px;text-align:center;">Jul</div>
<div class="t" style="left:326.49px;top:441.15px;font-size:4.9px;color:#333;width:30px;text-align:center;">24</div>
<div class="t" style="left:354.60px;top:435.05px;font-size:4.9px;color:#333;width:30px;text-align:center;">Aug</div>
<div class="t" style="left:354.60px;top:441.15px;font-size:4.9px;color:#333;width:30px;text-align:center;">24</div>
<div class="t" style="left:382.36px;top:435.05px;font-size:4.9px;color:#333;width:30px;text-align:center;">Sept</div>
<div class="t" style="left:382.36px;top:441.15px;font-size:4.9px;color:#333;width:30px;text-align:center;">24</div>
<div class="t" style="left:410.47px;top:435.05px;font-size:4.9px;color:#333;width:30px;text-align:center;">Oct</div>
<div class="t" style="left:410.47px;top:441.15px;font-size:4.9px;color:#333;width:30px;text-align:center;">24</div>
<div class="t" style="left:438.58px;top:435.05px;font-size:4.9px;color:#333;width:30px;text-align:center;">Nov</div>
<div class="t" style="left:438.58px;top:441.15px;font-size:4.9px;color:#333;width:30px;text-align:center;">24</div>
<div class="t" style="left:466.69px;top:435.05px;font-size:4.9px;color:#333;width:30px;text-align:center;">Dec</div>
<div class="t" style="left:466.69px;top:441.15px;font-size:4.9px;color:#333;width:30px;text-align:center;">24</div>
<div class="t" style="left:494.80px;top:435.05px;font-size:4.9px;color:#333;width:30px;text-align:center;">Jan</div>
<div class="t" style="left:494.80px;top:441.15px;font-size:4.9px;color:#333;width:30px;text-align:center;">25</div>
<div class="t" style="left:522.56px;top:435.05px;font-size:4.9px;color:#333;width:30px;text-align:center;">Feb</div>
<div class="t" style="left:522.56px;top:441.15px;font-size:4.9px;color:#333;width:30px;text-align:center;">25</div>
<div class="t" style="left:550.67px;top:435.05px;font-size:4.9px;color:#333;width:30px;text-align:center;">Mar</div>
<div class="t" style="left:550.67px;top:441.15px;font-size:4.9px;color:#333;width:30px;text-align:center;">25</div>
<div class="t" style="left:578.78px;top:435.05px;font-size:4.9px;color:#333;width:30px;text-align:center;">April</div>
<div class="t" style="left:578.78px;top:441.15px;font-size:4.9px;color:#333;width:30px;text-align:center;">25</div>
<div class="t" style="left:606.89px;top:435.05px;font-size:4.9px;color:#333;width:30px;text-align:center;">May</div>
<div class="t" style="left:606.89px;top:441.15px;font-size:4.9px;color:#333;width:30px;text-align:center;">25</div>
<div class="t" style="left:663.70px;top:256.68px;font-size:6.7px;color:#3f4a80;-webkit-text-stroke:0.22px #3f4a80;">Subscription Metrics</div>
<div class="t" style="left:927.60px;top:256.79px;font-size:6.5px;color:#222;-webkit-text-stroke:0.12px #222;width:80px;text-align:right;">Last 12 Months</div>
<div class="t" style="left:658.90px;top:278.40px;font-size:7.6px;color:#222;">Active Subscriptions</div>
<div class="t" style="left:659.60px;top:293.05px;font-size:7.4px;color:#1b1b1f;font-weight:700;">324</div>
<div class="t" style="left:664.80px;top:304.84px;font-size:5.3px;color:#2ecc5a;font-weight:700;">4.0%</div>
<div class="t" style="left:680.00px;top:304.71px;font-size:5.45px;color:#333;">Year on Year</div>
<div class="t" style="left:842.70px;top:278.05px;font-size:7.4px;color:#222;">ARPU</div>
<div class="t" style="left:842.20px;top:294.33px;font-size:6.1px;color:#1b1b1f;font-weight:700;">$211.12</div>
<div class="t" style="left:848.40px;top:304.81px;font-size:5.37px;color:#2ecc5a;font-weight:700;">8.24%</div>
<div class="t" style="left:866.00px;top:304.71px;font-size:5.45px;color:#333;">Year on Year</div>
<div class="t" style="left:658.90px;top:373.25px;font-size:7.5px;color:#222;">Churn Rate</div>
<div class="t" style="left:658.40px;top:388.46px;font-size:7.2px;color:#1b1b1f;font-weight:700;">4.3%</div>
<div class="t" style="left:663.70px;top:399.24px;font-size:5.3px;color:#2ecc5a;font-weight:700;">5.53%</div>
<div class="t" style="left:679.70px;top:399.11px;font-size:5.45px;color:#333;">Year on Year</div>
<div class="t" style="left:842.70px;top:372.85px;font-size:7.4px;color:#222;">LTV</div>
<div class="t" style="left:842.20px;top:388.35px;font-size:7.4px;color:#1b1b1f;font-weight:700;">$4904.85</div>
<div class="t" style="left:848.40px;top:399.30px;font-size:5.2px;color:#2ecc5a;font-weight:700;">7.25%</div>
<div class="t" style="left:864.00px;top:399.11px;font-size:5.45px;color:#333;">Year on Year</div>
<div class="t" style="left:297.60px;top:475.07px;font-size:6.36px;color:#333;-webkit-text-stroke:0.2px #333;">Sales &amp; Expense</div>
<div class="t" style="left:546.80px;top:474.99px;font-size:6.5px;color:#222;-webkit-text-stroke:0.12px #222;width:80px;text-align:right;">Last 12 Months</div>
<div class="t" style="left:289.20px;top:497.15px;font-size:5.27px;color:#2f6fed;font-weight:700;">Total Income</div>
<div class="t" style="left:289.20px;top:506.75px;font-size:7.4px;color:#1b1b1f;font-weight:700;">$500,650.00</div>
<div class="t" style="left:671.30px;top:474.91px;font-size:6.65px;color:#3f4a80;-webkit-text-stroke:0.22px #3f4a80;">Subscription Summary</div>
<div class="t" style="left:919.90px;top:474.99px;font-size:6.5px;color:#222;-webkit-text-stroke:0.12px #222;width:80px;text-align:right;">Last 12 Months</div>
<div class="t" style="left:670.00px;top:499.47px;font-size:5.05px;color:#222;font-weight:700;">Signups</div>
<div class="t" style="left:963.90px;top:498.68px;font-size:6.77px;color:#1b1b1f;font-weight:700;width:40px;text-align:right;">340</div>
</div>
</div></div>
</body></html>
